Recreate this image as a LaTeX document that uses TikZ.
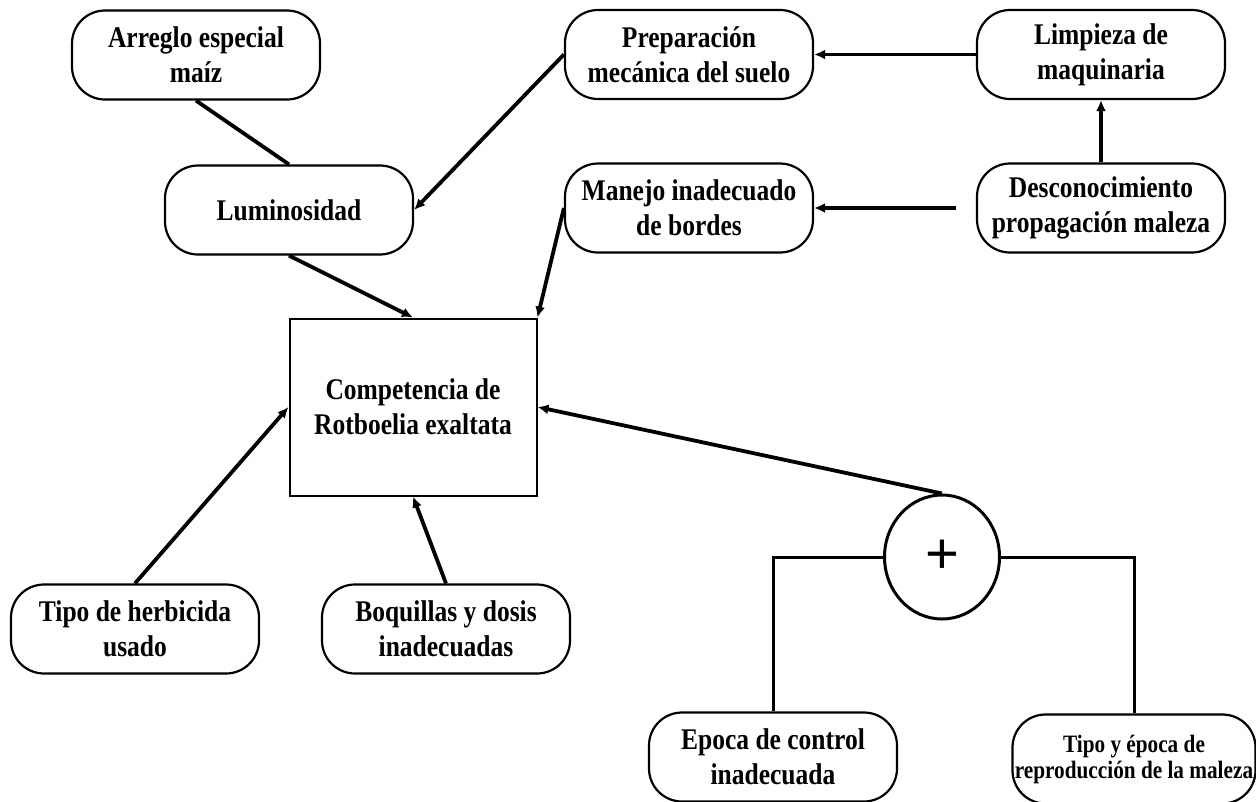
\documentclass[tikz,border=0pt]{standalone}
\usepackage{fontspec}
\setmainfont{Liberation Serif}[FakeStretch=0.85]
\newfontfamily\plusfont{Liberation Sans}
\usetikzlibrary{arrows.meta,shapes.geometric}
\begin{document}
\begin{tikzpicture}[x=1pt,y=-1pt,
  cause/.style={draw, line width=2.2pt, rounded corners=33pt, minimum width=248pt, minimum height=89pt, align=center, inner sep=0pt, font=\bfseries\fontsize{30}{35}\selectfont},
  mainbox/.style={draw, line width=2pt, minimum width=247pt, minimum height=177pt, align=center, inner sep=0pt, font=\bfseries\fontsize{30}{35}\selectfont},
  sumnode/.style={draw, ellipse, line width=3pt, minimum width=115pt, minimum height=124pt, inner sep=0pt},
  conn/.style={line width=3.8pt},
  branch/.style={line width=3pt},
  arr/.style={conn, -{Latex[length=11pt,width=10pt]}},
]
\useasboundingbox (0,0) rectangle (1256,801);
\node[cause] (arreglo) at (196,55) {Arreglo especial\\maíz};
\node[cause] (lum) at (289,210) {Luminosidad};
\node[cause] (prep) at (689,54.5) {Preparación\\mecánica del suelo};
\node[cause] (limp) at (1101,54.5) {Limpieza de\\maquinaria};
\node[cause] (manejo) at (689,208) {Manejo inadecuado\\de bordes};
\node[cause] (desc) at (1101,208) {Desconocimiento\\propagación maleza};
\node[mainbox] (comp) at (413,407) {Competencia de\\Rotboelia exaltata};
\node[cause] (tipo) at (135,629) {Tipo de herbicida\\usado};
\node[cause] (boq) at (446,629) {Boquillas y dosis\\inadecuadas};
\node[sumnode] (plus) at (942,557) {\plusfont\fontsize{58}{58}\selectfont +};
\node[cause] (epoca) at (773,757) {Epoca de control\\inadecuada};
\node[cause, minimum width=243pt, font=\bfseries\fontsize{25}{26}\selectfont] (repro) at (1134,759) {Tipo y época de\\reproducción de la maleza};

\draw[conn] (arreglo.south) -- (lum.north);
\draw[arr] (prep.west) -- (lum.east);
\draw[arr] (limp.west) -- (prep.east);
\draw[arr] (desc.north) -- (limp.south);
\draw[arr, shorten <=20pt] (desc.west) -- (manejo.east);
\draw[arr] (lum.south) -- (comp.north);
\draw[arr] (manejo.west) -- (comp.north east);
\draw[arr] (tipo.north) -- (comp.west);
\draw[arr] (boq.north) -- (comp.south);
\draw[arr] (plus.north) -- (comp.east);
\draw[branch] (plus.west) -| (epoca.north);
\draw[branch] (plus.east) -| (repro.north);
\end{tikzpicture}
\end{document}
